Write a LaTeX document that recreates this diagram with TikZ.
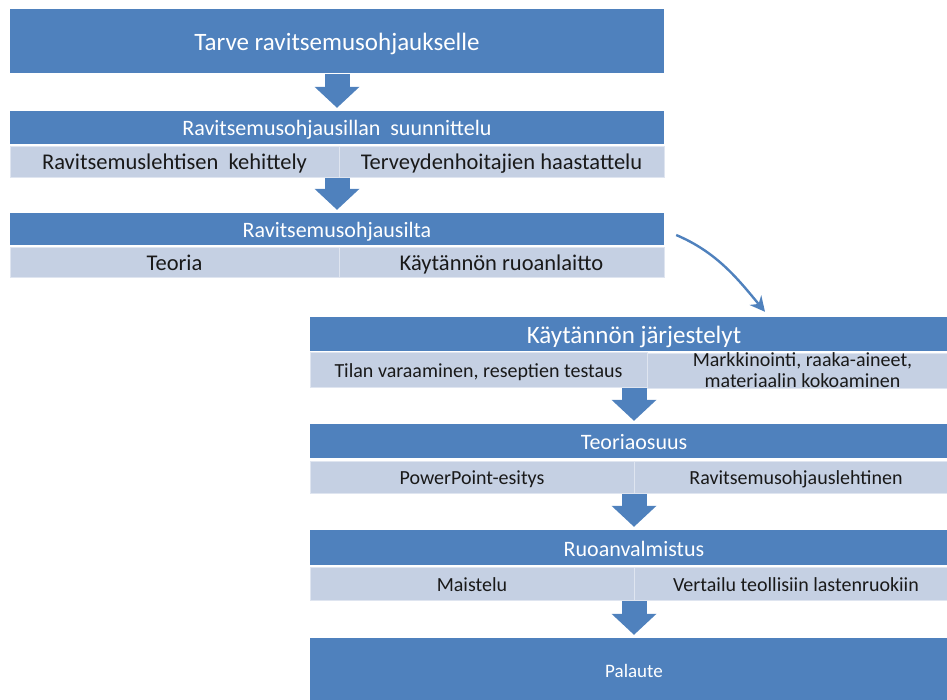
\documentclass[tikz,border=0pt]{standalone}
\usepackage{fontspec}
\setmainfont{Carlito}
\usepackage{tikz}
\usetikzlibrary{arrows.meta}

\definecolor{headblue}{HTML}{4F81BD}
\definecolor{partblue}{HTML}{C5D0E3}

\begin{document}
\begin{tikzpicture}[x=1pt, y=-1pt,
    head/.style={fill=headblue, text=white, inner sep=0pt, minimum height=33pt},
    part/.style={fill=partblue, draw=white!45!partblue, line width=0.8pt, text=black!90, inner sep=0pt, align=center},
    btext/.style={font=\fontsize{25}{30}\selectfont, text height=21pt, text depth=2pt},
    htext/.style={font=\fontsize{22}{26}\selectfont, text height=18.5pt, text depth=1.5pt},
    ptext/.style={font=\fontsize{22.5}{26}\selectfont, text height=18.5pt, text depth=2pt},
    stext/.style={font=\fontsize{20}{24}\selectfont, text height=17pt, text depth=1.8pt},
    flow/.style={draw=headblue, line width=25pt, -{Triangle[width=45pt, length=21pt, line width=0pt]}, shorten <=1pt, shorten >=3pt},
    link/.style={draw=headblue, line width=2.4pt, -{Stealth[width=15pt, length=15pt]}}]
    \clip (0, 0) rectangle (947, 700);

    \node[head, btext, minimum width=654pt, minimum height=64pt] (need) at (337, 41) {Tarve ravitsemusohjaukselle};

    \node[head, htext, minimum width=654pt] (plan) at (337, 127.5) {Ravitsemusohjausillan\ \ suunnittelu};
    \node[part, ptext, minimum width=329pt, minimum height=31pt] (planL) at (174.5, 161.5) {Ravitsemuslehtisen\ \ kehittely};
    \node[part, ptext, minimum width=325pt, minimum height=31pt] (planR) at (501.5, 161.5) {Terveydenhoitajien haastattelu};

    \node[head, htext, minimum width=654pt, minimum height=32pt] (ilta) at (337, 229) {Ravitsemusohjausilta};
    \node[part, ptext, minimum width=329pt, minimum height=30pt] (iltaL) at (174.5, 262) {Teoria};
    \node[part, ptext, minimum width=325pt, minimum height=30pt] (iltaR) at (501.5, 262) {Käytännön ruoanlaitto};

    \node[head, btext, minimum width=648pt, minimum height=34pt] (jarj) at (634, 334) {Käytännön järjestelyt};
    \node[part, stext, minimum width=337pt, minimum height=35pt] (jarjL) at (478.5, 369.5) {Tilan varaaminen, reseptien testaus};
    \node[part, minimum width=311pt, minimum height=35pt, font=\fontsize{20}{21}\selectfont] (jarjR) at (802.5, 370.5) {Markkinointi, raaka-aineet,\\materiaalin kokoaminen};

    \node[head, htext, minimum width=648pt, minimum height=34pt] (teoria) at (634, 441) {Teoriaosuus};
    \node[part, stext, minimum width=324pt, minimum height=32pt] (teoriaL) at (472, 477) {PowerPoint-esitys};
    \node[part, stext, minimum width=324pt, minimum height=32pt] (teoriaR) at (796, 477) {Ravitsemusohjauslehtinen};

    \node[head, htext, minimum width=648pt, minimum height=35pt] (ruoka) at (634, 547.5) {Ruoanvalmistus};
    \node[part, stext, minimum width=324pt, minimum height=33pt] (ruokaL) at (472, 583.5) {Maistelu};
    \node[part, stext, minimum width=324pt, minimum height=33pt] (ruokaR) at (796, 583.5) {Vertailu teollisiin lastenruokiin};

    \node[head, minimum width=648pt, minimum height=64pt, font=\fontsize{19}{23}\selectfont, text height=16.5pt, text depth=1.7pt] (palaute) at (634, 670) {Palaute};

    \draw[flow] (need.south) -- (plan.north);
    \draw[flow] (planL.south -| plan.south) -- (ilta.north);
    \draw[flow] (jarjL.south -| teoria.north) -- (teoria.north);
    \draw[flow] (teoriaL.south -| ruoka.north) -- (ruoka.north);
    \draw[flow] (ruokaL.south -| palaute.north) -- (palaute.north);

    \draw[link] ([xshift=12pt, yshift=-6pt]ilta.east) .. controls +(40, 17) and +(-28, -34) .. ([xshift=131pt, yshift=5pt]jarj.north);
\end{tikzpicture}
\end{document}
